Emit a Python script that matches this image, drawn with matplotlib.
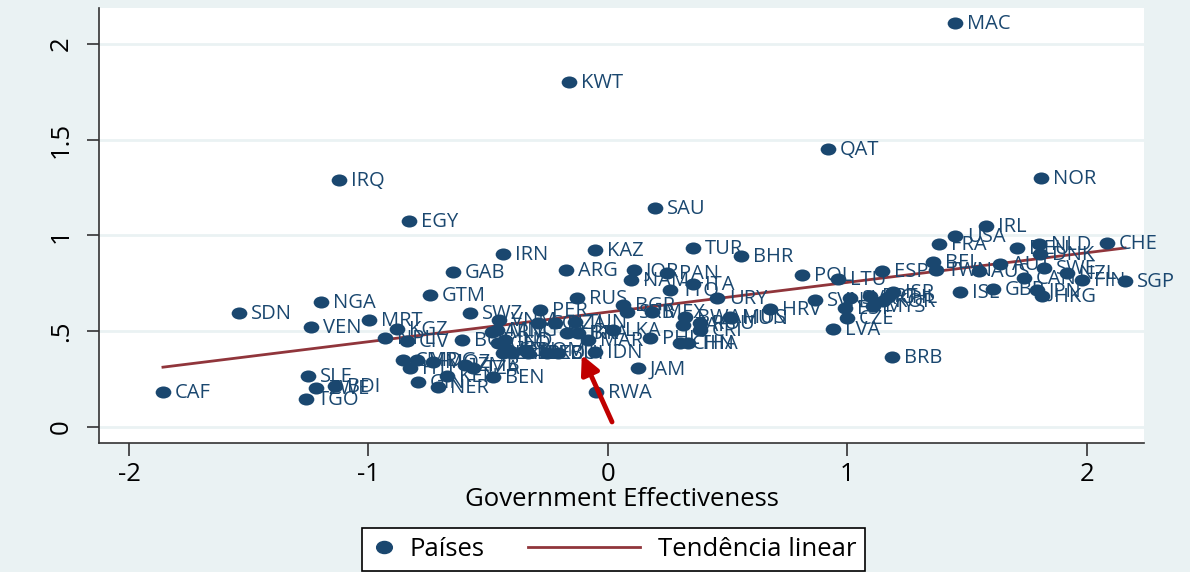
import matplotlib
matplotlib.use("Agg")
import matplotlib.pyplot as plt
import numpy as np
from matplotlib.path import Path
from matplotlib.lines import Line2D
from matplotlib.legend_handler import HandlerLine2D

# country codes, government effectiveness (x) and outcome (y)
countries = [
    "MAC", "KWT", "QAT", "NOR", "IRQ", "SAU", "EGY", "IRL", "USA", "FRA",
    "CHE", "NLD", "DEU", "DNK", "SWE", "BEL", "TWN", "AUT", "AUS", "CAN",
    "NZL", "FIN", "SGP", "ISL", "GBR", "JPN", "HKG", "BHR", "POL", "LTU",
    "ESP", "HRV", "SVN", "SVK", "EST", "CZE", "LVA", "PRT", "CHL", "ISR",
    "KOR", "MYS", "BRB", "URY", "HUN", "TUR", "KAZ", "IRN", "GAB", "ARG",
    "JOR", "NAM", "PAN", "ITA", "TTO", "GTM", "RUS", "CAF", "SDN", "NGA",
    "VEN", "SLE", "TGO", "ZWE", "BDI", "MRT", "KGZ", "NPL", "CIV", "SWZ",
    "BOL", "CMR", "MDG", "HTI", "MOZ", "GIN", "NER", "KEN", "ZMB", "TZA",
    "BEN", "VNM", "MNG", "ARM", "IND", "GEO", "SEN", "LBN", "ALB", "DOM",
    "MKD", "PER", "COL", "DZA", "ECU", "BIH", "TUN", "BRA", "UKR", "MAR",
    "IDN", "RWA", "LKA", "BGR", "SRB", "MEX", "PHL", "JAM", "BWA", "ZAF",
    "ROU", "CRI", "MUS", "CHN", "THA",
]
gov_eff = [
    1.449, -0.163, 0.919, 1.808, -1.123, 0.196, -0.831, 1.578, 1.449, 1.382,
    2.084, 1.800, 1.708, 1.804, 1.820, 1.357, 1.370, 1.637, 1.549, 1.737,
    1.916, 1.979, 2.159, 1.470, 1.608, 1.791, 1.812, 0.555, 0.810, 0.960,
    1.144, 0.676, 0.864, 1.010, 0.990, 0.998, 0.939, 1.094, 1.169, 1.190,
    1.148, 1.106, 1.186, 0.455, 0.514, 0.355, -0.054, -0.438, -0.647, -0.175,
    0.109, 0.096, 0.246, 0.355, 0.259, -0.743, -0.129, -1.858, -1.541, -1.198,
    -1.240, -1.253, -1.261, -1.219, -1.140, -0.998, -0.881, -0.931, -0.839, -0.576,
    -0.610, -0.856, -0.797, -0.827, -0.731, -0.793, -0.710, -0.672, -0.597, -0.564,
    -0.480, -0.455, -0.463, -0.484, -0.430, -0.459, -0.422, -0.438, -0.401, -0.347,
    -0.334, -0.284, -0.292, -0.221, -0.255, -0.209, -0.138, -0.125, -0.171, -0.084,
    -0.054, -0.050, 0.021, 0.063, 0.079, 0.184, 0.175, 0.125, 0.322, 0.313,
    0.384, 0.384, 0.509, 0.301, 0.334,
]
outcome = [
    2.110, 1.802, 1.452, 1.300, 1.290, 1.144, 1.076, 1.050, 0.997, 0.956,
    0.961, 0.956, 0.935, 0.903, 0.830, 0.862, 0.820, 0.851, 0.815, 0.778,
    0.804, 0.768, 0.762, 0.705, 0.721, 0.715, 0.684, 0.893, 0.794, 0.773,
    0.815, 0.616, 0.663, 0.674, 0.621, 0.569, 0.512, 0.684, 0.679, 0.705,
    0.658, 0.632, 0.366, 0.674, 0.569, 0.935, 0.924, 0.903, 0.809, 0.820,
    0.820, 0.768, 0.804, 0.747, 0.715, 0.689, 0.674, 0.183, 0.595, 0.653,
    0.522, 0.266, 0.146, 0.204, 0.214, 0.559, 0.512, 0.465, 0.449, 0.595,
    0.454, 0.350, 0.350, 0.308, 0.339, 0.235, 0.209, 0.266, 0.324, 0.308,
    0.261, 0.559, 0.507, 0.496, 0.454, 0.439, 0.402, 0.386, 0.386, 0.402,
    0.386, 0.611, 0.543, 0.543, 0.386, 0.386, 0.548, 0.491, 0.491, 0.454,
    0.392, 0.183, 0.507, 0.637, 0.601, 0.601, 0.465, 0.308, 0.574, 0.533,
    0.543, 0.507, 0.574, 0.439, 0.439,
]

# linear trend (intercept, slope)
trend_coef = [0.600, 0.155]

# red arrow highlighting a point
arrow_tail = (0.017, 0.026)
arrow_tip = (-0.109, 0.376)

x_ticks = [-2, -1, 0, 1, 2]
y_ticks = [0, 0.5, 1, 1.5, 2]
y_tick_labels = ["0", ".5", "1", "1.5", "2"]

NAVY = "#1a476f"
MAROON = "#90353b"
BG = "#eaf2f3"

plt.rcParams["font.family"] = ["Open Sans", "DejaVu Sans"]

# slightly wide elliptical marker, like the reference
circ = Path.unit_circle()
ellipse = Path(circ.vertices * np.array([1.3, 1.0]), circ.codes)

fig = plt.figure(figsize=(11.9, 5.72), dpi=100, facecolor=BG)
ax = fig.add_axes([99 / 1190, 129 / 572, 1045 / 1190, 435 / 572])
ax.set_facecolor("white")

x = np.array(gov_eff)
y = np.array(outcome)

ax.scatter(x, y, marker=ellipse, s=11.3 ** 2, color=NAVY, linewidths=0, zorder=3)
for code, xi, yi in zip(countries, x, y):
    ax.annotate(code, (xi, yi), xytext=(8.5, -1), textcoords="offset points",
                ha="left", va="center", fontsize=14.5, color=NAVY, zorder=4)

xt = np.array([x.min(), x.max()])
ax.plot(xt, trend_coef[0] + trend_coef[1] * xt, color=MAROON, lw=2, zorder=2)

ax.annotate("", xy=arrow_tip, xytext=arrow_tail,
            arrowprops=dict(arrowstyle="-|>", color="#c00000", lw=3.5,
                            mutation_scale=28, shrinkA=0, shrinkB=0), zorder=5)

ax.set_xlim(-2.125, 2.238)
ax.set_ylim(-0.084, 2.188)
ax.set_xticks(x_ticks)
ax.set_xticklabels([str(t) for t in x_ticks])
ax.set_yticks(y_ticks)
ax.set_yticklabels(y_tick_labels, rotation=90, va="center")
ax.tick_params(axis="both", length=9, width=1.2, color="#333333", labelsize=18.5)
ax.tick_params(axis="y", pad=9)
ax.tick_params(axis="x", pad=5)
ax.grid(axis="y", color=BG, lw=2)
ax.set_axisbelow(True)
for side in ["top", "right"]:
    ax.spines[side].set_visible(False)
for side in ["left", "bottom"]:
    ax.spines[side].set_color("#333333")
    ax.spines[side].set_linewidth(1.2)
ax.set_xlabel("Government Effectiveness", fontsize=18.5, labelpad=0)


class LongLineHandler(HandlerLine2D):
    # line drawn longer than the handle box, reaching to the left
    def create_artists(self, legend, orig_handle, xdescent, ydescent,
                       width, height, fontsize, trans):
        yc = (height - ydescent) / 2
        line = Line2D([width - 84, width - 4], [yc, yc], color=MAROON, lw=2)
        line.set_transform(trans)
        return [line]


handles = [
    Line2D([], [], ls="none", marker=ellipse, markersize=11.3, color=NAVY),
    Line2D([], [], color=MAROON, lw=2),
]
leg = fig.legend(handles, ["Países", "Tendência linear"], loc="upper left",
                 bbox_to_anchor=(362 / 1190, 1 - 528 / 572), ncol=2,
                 fontsize=18.5, frameon=True, fancybox=False, edgecolor="black",
                 borderpad=0.35, borderaxespad=0, handlelength=1.0,
                 handletextpad=0.5, columnspacing=5.25, framealpha=1,
                 handler_map={handles[1]: LongLineHandler()})
leg.get_frame().set_linewidth(1.2)

fig.savefig("out.png", dpi=100, facecolor=BG)
plt.close(fig)
